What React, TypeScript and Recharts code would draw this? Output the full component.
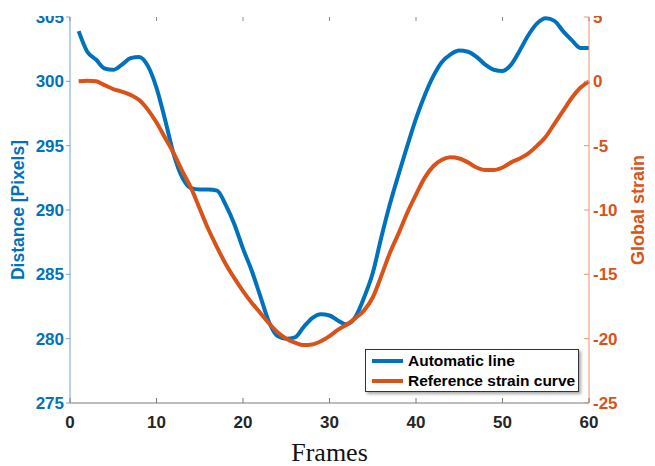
import { LineChart, Line, XAxis, YAxis, Legend } from "recharts"

const BLUE = "#0072BD"
const ORANGE = "#D95319"
const FONT = "'Liberation Sans', Arial, sans-serif"

// frame numbers
const frames = [
  1, 2, 3, 4, 5, 6, 7, 8, 9, 10, 11, 12, 13, 14, 15, 16, 17, 18, 19, 20,
  21, 22, 23, 24, 25, 26, 27, 28, 29, 30, 31, 32, 33, 34, 35, 36, 37, 38, 39, 40,
  41, 42, 43, 44, 45, 46, 47, 48, 49, 50, 51, 52, 53, 54, 55, 56, 57, 58, 59, 60,
]

// distance in pixels (left axis)
const automaticLine = [
  303.9, 302.3, 301.7, 301.0, 300.9, 301.3, 301.8, 301.9, 301.2, 299.5,
  297.0, 294.3, 292.5, 291.7, 291.6, 291.6, 291.5, 290.4, 288.9, 287.0,
  285.3, 283.3, 281.3, 280.2, 280.0, 280.1, 280.9, 281.6, 281.9, 281.8,
  281.4, 281.1, 281.7, 283.2, 285.1, 287.9, 290.5, 292.8, 295.0, 297.1,
  298.9, 300.4, 301.5, 302.1, 302.4, 302.3, 301.9, 301.3, 300.9, 300.8,
  301.3, 302.4, 303.6, 304.5, 304.9, 304.7, 303.9, 303.2, 302.6, 302.6,
]

// global strain (right axis)
const referenceStrain = [
  0.0, 0.05, 0.0, -0.3, -0.6, -0.8, -1.05, -1.45, -2.2, -3.2,
  -4.4, -5.6, -7.0, -8.3, -9.9, -11.5, -12.9, -14.2, -15.3, -16.3,
  -17.2, -18.0, -18.8, -19.5, -20.0, -20.3, -20.5, -20.45, -20.2, -19.8,
  -19.3, -18.9, -18.4, -17.8, -16.8, -15.1, -13.3, -11.8, -10.2, -8.8,
  -7.5, -6.6, -6.1, -5.9, -6.0, -6.3, -6.7, -6.9, -6.9, -6.7,
  -6.3, -6.0, -5.6, -5.0, -4.3, -3.3, -2.3, -1.3, -0.5, 0.0,
]

const xTicks = [0, 10, 20, 30, 40, 50, 60]
const leftTicks = [275, 280, 285, 290, 295, 300, 305]
const rightTicks = [-25, -20, -15, -10, -5, 0, 5]

const data = frames.map((f, i) => ({
  frame: f,
  automatic: automaticLine[i],
  reference: referenceStrain[i],
}))

function BottomTick({ x, y, payload }: any) {
  return (
    <g>
      <line x1={x} y1={y} x2={x} y2={y - 5} stroke="#7a7a7a" />
      <text x={x} y={y + 25} textAnchor="middle" fill="#262626" fontSize={17} fontWeight="bold" fontFamily={FONT}>
        {payload.value}
      </text>
    </g>
  )
}

function TopTick({ x, y }: any) {
  return <line x1={x} y1={y} x2={x} y2={y + 4} stroke="#8a8a8a" />
}

function RightTick({ x, y, payload }: any) {
  return (
    <g>
      <line x1={x} y1={y} x2={x - 5} y2={y} stroke="#e8936a" />
      <text x={x + 4} y={y} dy="0.36em" textAnchor="start" fill={ORANGE} fontSize={17} fontWeight="bold" fontFamily={FONT}>
        {payload.value}
      </text>
    </g>
  )
}

function LeftLabel({ viewBox }: any) {
  const cx = viewBox.x - 2
  const cy = viewBox.y + viewBox.height / 2
  return (
    <text x={cx} y={cy} dy="0.36em" transform={`rotate(-90 ${cx} ${cy})`} textAnchor="middle" fill={BLUE} fontSize={17.5} fontWeight="bold" fontFamily={FONT}>
      Distance [Pixels]
    </text>
  )
}

function RightLabel({ viewBox }: any) {
  const cx = viewBox.x + 49
  const cy = viewBox.y + viewBox.height / 2
  return (
    <text x={cx} y={cy} dy="0.36em" transform={`rotate(-90 ${cx} ${cy})`} textAnchor="middle" fill={ORANGE} fontSize={18} fontWeight="bold" fontFamily={FONT}>
      Global strain
    </text>
  )
}

function BottomLabel({ viewBox }: any) {
  return (
    <text x={viewBox.x + viewBox.width / 2} y={viewBox.y + 58} textAnchor="middle" fill="#111" fontSize={26} fontFamily="'Liberation Serif', 'Times New Roman', serif">
      Frames
    </text>
  )
}

function LegendBox({ payload }: any) {
  return (
    <div
      style={{
        width: 214,
        height: 43,
        boxSizing: "border-box",
        border: "1px solid #333",
        background: "#fff",
        boxShadow: "2px 2px 3px rgba(0,0,0,0.35)",
        padding: "1px 6px",
      }}
    >
      {(payload || []).map((p: any) => (
        <div key={p.value} style={{ display: "flex", alignItems: "center", height: 20 }}>
          <span style={{ display: "inline-block", width: 31, height: 4, background: p.color, marginRight: 5, flexShrink: 0 }} />
          <span style={{ fontSize: 15.5, fontWeight: "bold", color: "#000", fontFamily: FONT, whiteSpace: "nowrap" }}>
            {p.value}
          </span>
        </div>
      ))}
    </div>
  )
}

export default function App() {
  // the source figure is cropped just above the plot box, so clip the top 16px
  return (
    <div style={{ position: "absolute", left: 0, top: 0, width: 655, height: 466, background: "#fff" }}>
      <div style={{ position: "absolute", left: 0, top: 16, width: 655, height: 450, overflow: "hidden" }}>
        <div style={{ position: "absolute", left: 0, top: -16 }}>
          <LineChart width={655} height={466} data={data} margin={{ top: 16, right: 20, bottom: 33, left: 20 }}>
            <XAxis
              dataKey="frame"
              type="number"
              domain={[0, 60]}
              ticks={xTicks}
              height={30}
              axisLine={{ stroke: "#7a7a7a" }}
              tickLine={false}
              tickSize={0}
              tickMargin={0}
              tick={<BottomTick />}
              label={<BottomLabel />}
            />
            <XAxis
              xAxisId="top"
              orientation="top"
              dataKey="frame"
              type="number"
              domain={[0, 60]}
              ticks={xTicks}
              height={1}
              axisLine={false}
              tickLine={false}
              tickSize={0}
              tickMargin={0}
              tick={<TopTick />}
            />
            <YAxis
              yAxisId="left"
              orientation="left"
              domain={[275, 305]}
              ticks={leftTicks}
              width={50}
              axisLine={{ stroke: "#6aa6d8" }}
              tickLine={{ stroke: "#6aa6d8" }}
              tickSize={4}
              tickMargin={2}
              tick={{ fill: BLUE, fontSize: 17, fontWeight: "bold", fontFamily: FONT }}
              label={<LeftLabel />}
            />
            <YAxis
              yAxisId="right"
              orientation="right"
              domain={[-25, 5]}
              ticks={rightTicks}
              width={46}
              axisLine={{ stroke: "#e8936a" }}
              tickLine={false}
              tickSize={0}
              tickMargin={0}
              tick={<RightTick />}
              label={<RightLabel />}
            />
            <Legend
              layout="horizontal"
              verticalAlign="middle"
              align="center"
              wrapperStyle={{ left: 365, top: 349, width: 214 }}
              content={<LegendBox />}
            />
            <Line
              yAxisId="left"
              dataKey="automatic"
              name="Automatic line"
              type="monotone"
              stroke={BLUE}
              strokeWidth={4}
              dot={false}
              isAnimationActive={false}
            />
            <Line
              yAxisId="right"
              dataKey="reference"
              name="Reference strain curve"
              type="monotone"
              stroke={ORANGE}
              strokeWidth={4}
              dot={false}
              isAnimationActive={false}
            />
          </LineChart>
        </div>
      </div>
    </div>
  )
}
